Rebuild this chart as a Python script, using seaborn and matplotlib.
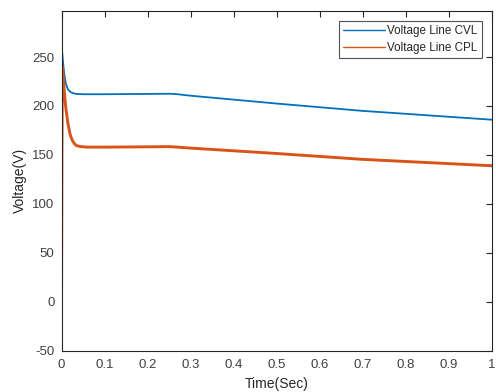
import matplotlib
matplotlib.use("Agg")
import matplotlib.pyplot as plt
import seaborn as sns
import pandas as pd

t_cvl = [0.0, 0.0005, 0.0015, 0.003, 0.006, 0.01, 0.015, 0.02, 0.027, 0.035, 0.05, 0.1, 0.2, 0.25, 0.27, 0.3, 0.5, 0.7, 1.0]
v_cvl = [0.0, 150.0, 255.0, 247.0, 234.0, 223.0, 217.0, 214.5, 213.0, 212.3, 212.0, 212.0, 212.3, 212.5, 212.0, 210.5, 202.5, 195.0, 186.0]

t_cpl = [0.0, 0.001, 0.002, 0.004, 0.007, 0.01, 0.015, 0.02, 0.025, 0.03, 0.035, 0.045, 0.06, 0.1, 0.2, 0.25, 0.27, 0.3, 0.5, 0.7, 1.0]
v_cpl = [0.0, 150.0, 240.0, 230.0, 212.0, 198.0, 182.0, 171.0, 165.0, 161.5, 159.5, 158.5, 158.0, 158.0, 158.3, 158.5, 158.0, 157.0, 151.5, 145.5, 139.0]

labels = ["Voltage Line CVL", "Voltage Line CPL"]
xticks = [0, 0.1, 0.2, 0.3, 0.4, 0.5, 0.6, 0.7, 0.8, 0.9, 1]
yticks = [-50, 0, 50, 100, 150, 200, 250]

sns.set_style("white")
plt.rcParams['font.family'] = ['Liberation Sans', 'DejaVu Sans']
plt.rcParams['axes.unicode_minus'] = False

df1 = pd.DataFrame({"t": t_cvl, "v": v_cvl})
df2 = pd.DataFrame({"t": t_cpl, "v": v_cpl})

fig = plt.figure(figsize=(4.96, 3.92), dpi=100)
ax = fig.add_axes([0.124, 0.105, 0.867, 0.867])
sns.lineplot(data=df1, x="t", y="v", ax=ax, color="#0072BD", lw=1.3, label=labels[0], sort=False)
sns.lineplot(data=df2, x="t", y="v", ax=ax, color="#D95319", lw=2.1, label=labels[1], sort=False)

ax.set_xlim(0, 1)
ax.set_ylim(-50, 297)
ax.set_xticks(xticks)
ax.set_xticklabels([str(x) for x in xticks])
ax.set_yticks(yticks)
ax.tick_params(direction="in", top=True, right=True, length=4, width=0.8,
               colors="#262626", labelsize=9.5, labelcolor="#404040")
ax.tick_params(axis="x", pad=6)
ax.tick_params(axis="y", pad=5)
for s in ax.spines.values():
    s.set_color("#262626")
    s.set_linewidth(0.8)
ax.set_xlabel("Time(Sec)", fontsize=10, color="#262626", labelpad=4)
ax.set_ylabel("Voltage(V)", fontsize=10, color="#262626", labelpad=4)

leg = ax.legend(loc="upper right", fontsize=8.4, frameon=True, fancybox=False,
                borderaxespad=0.85, handlelength=3.6, handletextpad=0.2,
                labelspacing=0.4, borderpad=0.35)
leg.get_frame().set_edgecolor("#262626")
leg.get_frame().set_linewidth(0.8)
for line in leg.get_lines():
    line.set_linewidth(1.0)

fig.savefig("out.png", dpi=100)
